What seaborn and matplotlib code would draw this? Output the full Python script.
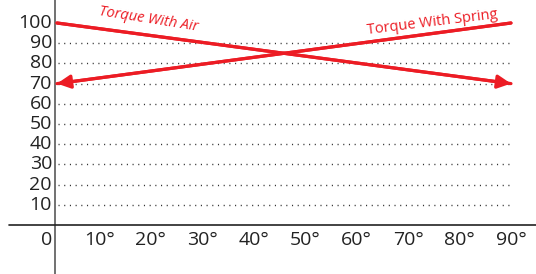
import matplotlib.pyplot as plt
import numpy as np
import pandas as pd
import seaborn as sns

# --- Data ---
ANGLES = [0, 90]
TORQUE_AIR = [100, 70]
TORQUE_SPRING = [70, 100]
Y_TICKS = [10, 20, 30, 40, 50, 60, 70, 80, 90, 100]
X_TICKS = [10, 20, 30, 40, 50, 60, 70, 80, 90]
X_TICK_LABELS = [f"{v}°" for v in X_TICKS]

RED = "#ec1c24"

# --- Layout (pixel calibration of the canvas) ---
W, H = 536, 274
X0_PX, X_PER_DEG = 57, 5.044      # angle 0 sits at px 57
Y0_PX, Y_PER_UNIT = 225, 2.02      # torque 0 sits at px 225


def px_x(px):
    return (px - X0_PX) / X_PER_DEG


def px_y(py):
    return (Y0_PX - py) / Y_PER_UNIT


sns.set_style("white")
plt.rcParams["font.family"] = ["Open Sans", "DejaVu Sans"]

fig = plt.figure(figsize=(W / 100, H / 100), dpi=100)
ax = fig.add_axes([0, 0, 1, 1])
ax.set_xlim(px_x(0), px_x(W))
ax.set_ylim(px_y(H), px_y(0))
ax.axis("off")

# dotted guide lines
ax.hlines(Y_TICKS[:-1], px_x(58), 90, colors="#333333", lw=1.0,
          linestyles=[(0, (0.8, 3.3))])

# axes
ax.axvline(px_x(55), color="#666666", lw=1.3)
ax.axhline(0, xmin=9 / W, xmax=1, color="#222222", lw=1.2)

# tick labels
for v in Y_TICKS:
    ax.text(px_x(52), v, str(v), ha="right", va="center", fontsize=14,
            color="#222222")
ax.text(px_x(52), px_y(240), "0", ha="right", va="center", fontsize=14,
        color="#222222")
for v, lab in zip(X_TICKS, X_TICK_LABELS):
    xpos = 90 - (90 - v) * 1.02
    ax.text(xpos, px_y(240), lab, ha="center", va="center", fontsize=14,
            color="#222222")

# torque lines
df = pd.DataFrame({
    "angle": ANGLES + ANGLES,
    "torque": TORQUE_AIR + TORQUE_SPRING,
    "series": ["Torque With Air"] * len(ANGLES) + ["Torque With Spring"] * len(ANGLES),
})
sns.lineplot(data=df, x="angle", y="torque", hue="series",
             palette=[RED, RED], legend=False, lw=2.3, ax=ax)

# arrowheads at the end of each line
arrow_kw = dict(arrowstyle="-|>", mutation_scale=20, color=RED, lw=2.3,
                shrinkA=0, shrinkB=0)
ax.annotate("", xy=(ANGLES[-1], TORQUE_AIR[-1]),
            xytext=(ANGLES[0], TORQUE_AIR[0]), arrowprops=arrow_kw)
ax.annotate("", xy=(ANGLES[0], TORQUE_SPRING[0]),
            xytext=(ANGLES[-1], TORQUE_SPRING[-1]), arrowprops=arrow_kw)

# line labels
ax.text(px_x(149), px_y(19), "Torque With Air", color=RED, fontsize=10.5,
        style="italic", rotation=-9, ha="center", va="center")
ax.text(px_x(432), px_y(23), "Torque With Spring", color=RED, fontsize=10.5,
        rotation=7, ha="center", va="center")

fig.savefig("out.png", dpi=100)
